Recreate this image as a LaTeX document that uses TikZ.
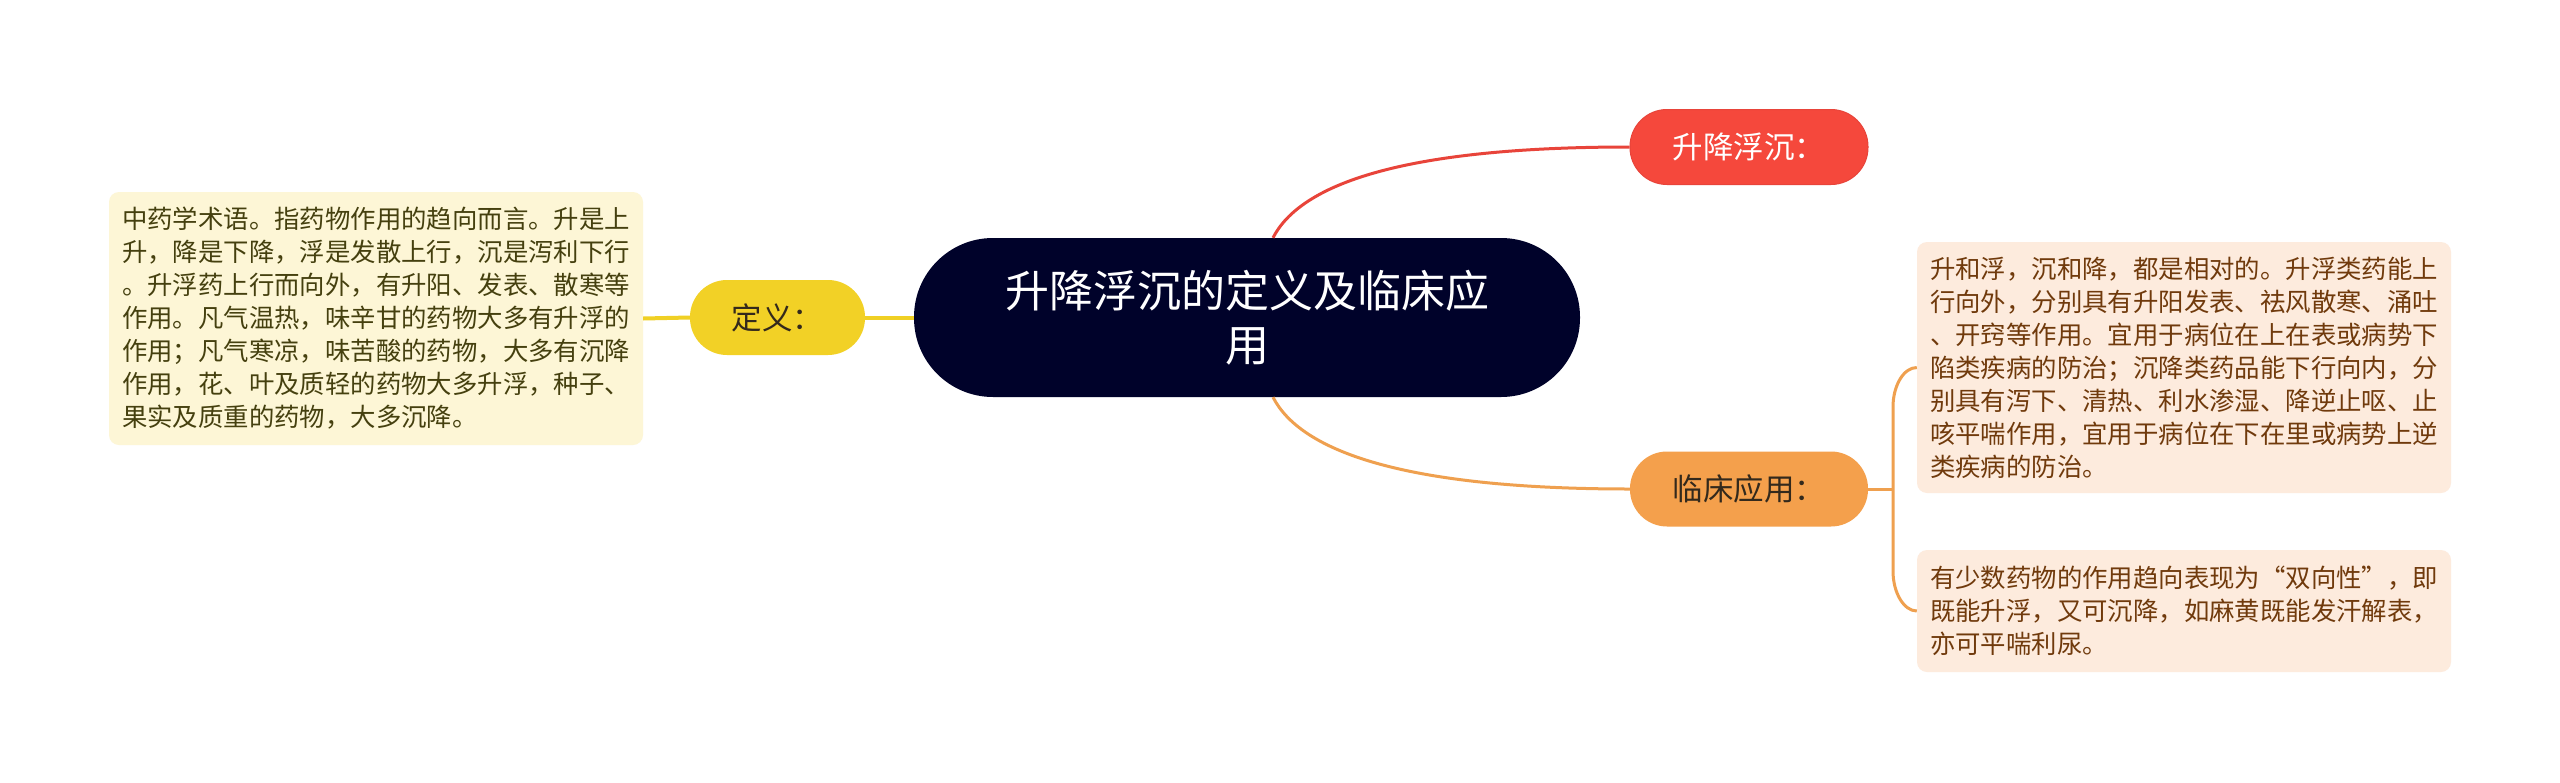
\documentclass[tikz,border=0pt]{standalone}
\usepackage{fontspec}
\setmainfont{Noto Sans CJK SC}
\definecolor{cnavy}{HTML}{00022A}
\definecolor{cred}{HTML}{F5483C}
\definecolor{credline}{HTML}{E8443A}
\definecolor{corange}{HTML}{F4A04C}
\definecolor{corline}{HTML}{EFA04F}
\definecolor{cyellow}{HTML}{F2D126}
\definecolor{cyelline}{HTML}{F0D024}
\definecolor{lfill}{HTML}{FDF6D6}
\definecolor{ltext}{HTML}{45400F}
\definecolor{rfill}{HTML}{FDEBDD}
\definecolor{rtext}{HTML}{703A0C}
\definecolor{darktxt}{HTML}{33291C}
\begin{document}
\begin{tikzpicture}[x=1pt,y=-1pt,
  pill/.style={rounded corners=37pt, minimum width=238pt, minimum height=75pt, inner sep=0pt, font=\fontsize{30.5}{36}\selectfont},
  txtbox/.style={rounded corners=10pt, text width=508pt, inner xsep=13pt, inner ysep=0pt, align=left, font=\fontsize{25.4}{33}\selectfont},
  redline/.style={draw=credline, line width=3pt},
  orline/.style={draw=corline, line width=3pt},
  yelline/.style={draw=cyelline, line width=4pt}]
\useasboundingbox (0,0) rectangle (2560,782);
\fill[white] (0,0) rectangle (2560,782);

% nodes
\node[fill=cnavy, text=white, rounded corners=79pt, minimum width=666pt, minimum height=159pt, inner sep=0pt, align=center, font=\fontsize{44}{54}\selectfont] (center) at (1247,317.5) {升降浮沉的定义及临床应\\用};
\node[pill, fill=cred, draw=credline, line width=1pt, text=white] (red) at (1749,147) {升降浮沉：};
\node[pill, fill=corange, text=darktxt] (orange) at (1749,489) {临床应用：};
\node[pill, fill=cyellow, text=darktxt, minimum width=175pt] (yellow) at (777.5,317.5) {定义：};

\node[txtbox, fill=lfill, text=ltext, minimum height=253pt] (ldef) at (376,318.5) {中药学术语。指药物作用的趋向而言。升是上\\升，降是下降，浮是发散上行，沉是泻利下行\\。升浮药上行而向外，有升阳、发表、散寒等\\作用。凡气温热，味辛甘的药物大多有升浮的\\作用；凡气寒凉，味苦酸的药物，大多有沉降\\作用，花、叶及质轻的药物大多升浮，种子、\\果实及质重的药物，大多沉降。};

\node[txtbox, fill=rfill, text=rtext, minimum height=251pt] (rbox1) at (2184,367.5) {升和浮，沉和降，都是相对的。升浮类药能上\\行向外，分别具有升阳发表、祛风散寒、涌吐\\、开窍等作用。宜用于病位在上在表或病势下\\陷类疾病的防治；沉降类药品能下行向内，分\\别具有泻下、清热、利水渗湿、降逆止呕、止\\咳平喘作用，宜用于病位在下在里或病势上逆\\类疾病的防治。};

\node[txtbox, fill=rfill, text=rtext, minimum height=122pt] (rbox2) at (2184,611) {有少数药物的作用趋向表现为“双向性”，即\\既能升浮，又可沉降，如麻黄既能发汗解表，\\亦可平喘利尿。};

% connectors
\coordinate (c1) at ([xshift=26pt]center.north);
\coordinate (c2) at ([xshift=26pt]center.south);
\coordinate (ob) at (1893,489);
\draw[redline] (c1) .. controls (1300,185) and (1400,147) .. (red.west);
\draw[orline] (c2) .. controls (1300,450) and (1400,489) .. (orange.west);
\draw[yelline] (yellow.east) -- (center.west);
\draw[yelline] (ldef.east) -- (yellow.west);
\draw[orline] (orange.east) -- (ob);
\draw[orline] (rbox1.west) .. controls (1904,367.5) and (1893,385) .. (1893,407) -- (ob) -- (1893,571) .. controls (1893,593) and (1904,611) .. (rbox2.west);
\end{tikzpicture}
\end{document}
